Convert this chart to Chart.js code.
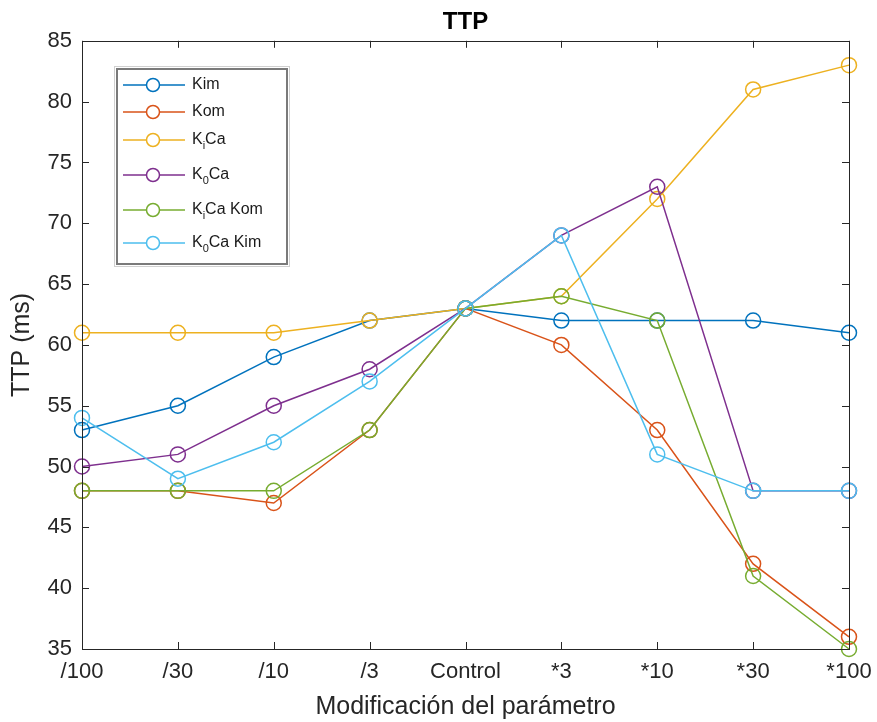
<!DOCTYPE html>
<html>
<head>
<meta charset="utf-8">
<title>TTP</title>
<script src="https://cdn.jsdelivr.net/npm/chart.js@4.4.1/dist/chart.umd.min.js"></script>
<style>
  html, body { margin: 0; padding: 0; background: #fff; }
  #wrap { width: 877px; height: 722px; }
</style>
</head>
<body>
<div id="wrap"><canvas id="ttp-chart" width="877" height="722"></canvas></div>
<script>
// datos
const categories = ['/100', '/30', '/10', '/3', 'Control', '*3', '*10', '*30', '*100'];
const yTicks = [35, 40, 45, 50, 55, 60, 65, 70, 75, 80, 85];

const kim     = [53, 55, 59, 62, 63, 62, 62, 62, 61];
const kom     = [48, 48, 47, 53, 63, 60, 53, 42, 36];
const kiCa    = [61, 61, 61, 62, 63, 64, 72, 81, 83];
const k0Ca    = [50, 51, 55, 58, 63, 69, 73, 48, 48];
const kiCaKom = [48, 48, 48, 53, 63, 64, 62, 41, 35];
const k0CaKim = [54, 49, 52, 57, 63, 69, 51, 48, 48];

// "_x" = subíndice
const seriesNames = ['Kim', 'Kom', 'K_iCa', 'K_0Ca', 'K_iCa Kom', 'K_0Ca Kim'];
const seriesData = [kim, kom, kiCa, k0Ca, kiCaKom, k0CaKim];
const colors = ['#0072BD', '#D95319', '#EDB120', '#7E2F8E', '#77AC30', '#4DBEEE'];

const FONT = 'Helvetica, Arial, "Liberation Sans", sans-serif';
const AXIS_COLOR = '#262626';

// caja y marcas hacia dentro, estilo MATLAB
const boxPlugin = {
    id: 'matlabBox',
    afterDraw(chart) {
        const { ctx, chartArea: a, scales } = chart;
        const len = 7;
        ctx.save();
        ctx.strokeStyle = AXIS_COLOR;
        ctx.lineWidth = 1;
        ctx.beginPath();
        scales.x.ticks.forEach((t, i) => {
            const px = Math.round(scales.x.getPixelForTick(i)) + 0.5;
            ctx.moveTo(px, a.bottom); ctx.lineTo(px, a.bottom - len);
            ctx.moveTo(px, a.top); ctx.lineTo(px, a.top + len);
        });
        scales.y.ticks.forEach((t, i) => {
            const py = Math.round(scales.y.getPixelForTick(i)) + 0.5;
            ctx.moveTo(a.left, py); ctx.lineTo(a.left + len, py);
            ctx.moveTo(a.right, py); ctx.lineTo(a.right - len, py);
        });
        ctx.stroke();
        ctx.strokeRect(Math.round(a.left) + 0.5, Math.round(a.top) + 0.5,
                       Math.round(a.right - a.left), Math.round(a.bottom - a.top));
        ctx.restore();
    }
};

// texto con subíndices
function drawRich(ctx, text, x, y) {
    const parts = text.split(/(_\w)/);
    parts.forEach(p => {
        if (!p) return;
        if (p.startsWith('_')) {
            ctx.font = '11px ' + FONT;
            ctx.fillText(p.slice(1), x, y + 6);
            x += ctx.measureText(p.slice(1)).width;
        } else {
            ctx.font = '16px ' + FONT;
            ctx.fillText(p, x, y);
            x += ctx.measureText(p).width;
        }
    });
}

// leyenda dentro del área de dibujo
const legendPlugin = {
    id: 'innerLegend',
    afterDatasetsDraw(chart) {
        const { ctx } = chart;
        const box = { x: 116, y: 68, w: 172, h: 197 };
        const rows = [17, 44, 72, 107, 142, 175];
        ctx.save();
        ctx.fillStyle = '#fff';
        ctx.fillRect(box.x, box.y, box.w, box.h);
        ctx.strokeStyle = '#d0d0d0';
        ctx.lineWidth = 1;
        ctx.strokeRect(box.x - 1.5, box.y - 1.5, box.w + 3, box.h + 3);
        ctx.strokeStyle = '#7a7a7a';
        ctx.lineWidth = 2;
        ctx.strokeRect(box.x + 1, box.y + 1, box.w - 2, box.h - 2);
        seriesNames.forEach((name, i) => {
            const cy = box.y + rows[i];
            ctx.strokeStyle = colors[i];
            ctx.lineWidth = 1.5;
            ctx.beginPath();
            ctx.moveTo(box.x + 7, cy);
            ctx.lineTo(box.x + 69, cy);
            ctx.stroke();
            ctx.fillStyle = '#fff';
            ctx.beginPath();
            ctx.arc(box.x + 37, cy, 6.5, 0, Math.PI * 2);
            ctx.fill();
            ctx.stroke();
            ctx.fillStyle = '#1a1a1a';
            ctx.textBaseline = 'middle';
            ctx.textAlign = 'left';
            drawRich(ctx, name, box.x + 76, cy);
        });
        ctx.restore();
    }
};

const datasets = seriesNames.map((name, i) => ({
    label: name.replace(/_/g, ''),
    data: seriesData[i],
    borderColor: colors[i],
    backgroundColor: 'rgba(0,0,0,0)',
    borderWidth: 1.5,
    pointRadius: 7.5,
    pointBorderWidth: 1.5,
    pointBackgroundColor: 'rgba(0,0,0,0)',
    pointBorderColor: colors[i],
    tension: 0,
    clip: false,
    order: seriesNames.length - i
}));

const ctx = document.getElementById('ttp-chart').getContext('2d');
window.ttpChart = new Chart(ctx, {
    type: 'line',
    data: { labels: categories, datasets: datasets },
    options: {
        responsive: false,
        animation: false,
        events: [],
        layout: { padding: { left: 0, right: 28, top: 0, bottom: 0 } },
        plugins: {
            legend: { display: false },
            tooltip: { enabled: false },
            title: {
                display: true,
                text: 'TTP',
                fullSize: false,
                color: '#000',
                font: { family: FONT, size: 24, weight: 'bold', lineHeight: 1.2 },
                padding: { top: 8, bottom: 4 }
            }
        },
        scales: {
            x: {
                type: 'category',
                offset: false,
                grid: { display: false, drawTicks: false },
                border: { display: false },
                ticks: { color: AXIS_COLOR, font: { family: FONT, size: 22 }, padding: 10, maxRotation: 0, autoSkip: false },
                title: {
                    display: true,
                    text: 'Modificación del parámetro',
                    color: AXIS_COLOR,
                    font: { family: FONT, size: 25, lineHeight: 1.2 },
                    padding: { top: 0, bottom: 0 }
                },
                afterFit(scale) {
                    scale.height = 73;
                    scale.paddingLeft = 0;
                    scale.paddingRight = 0;
                }
            },
            y: {
                min: 35,
                max: 85,
                grid: { display: false, drawTicks: false },
                border: { display: false },
                afterBuildTicks(scale) { scale.ticks = yTicks.map(v => ({ value: v })); },
                ticks: { color: AXIS_COLOR, font: { family: FONT, size: 22 }, padding: 10 },
                title: {
                    display: true,
                    text: 'TTP (ms)',
                    color: AXIS_COLOR,
                    font: { family: FONT, size: 25, lineHeight: 1.2 },
                    padding: { top: 7, bottom: 0 }
                },
                afterFit(scale) { scale.width = 82; }
            }
        }
    },
    plugins: [boxPlugin, legendPlugin]
});
</script>
</body>
</html>
